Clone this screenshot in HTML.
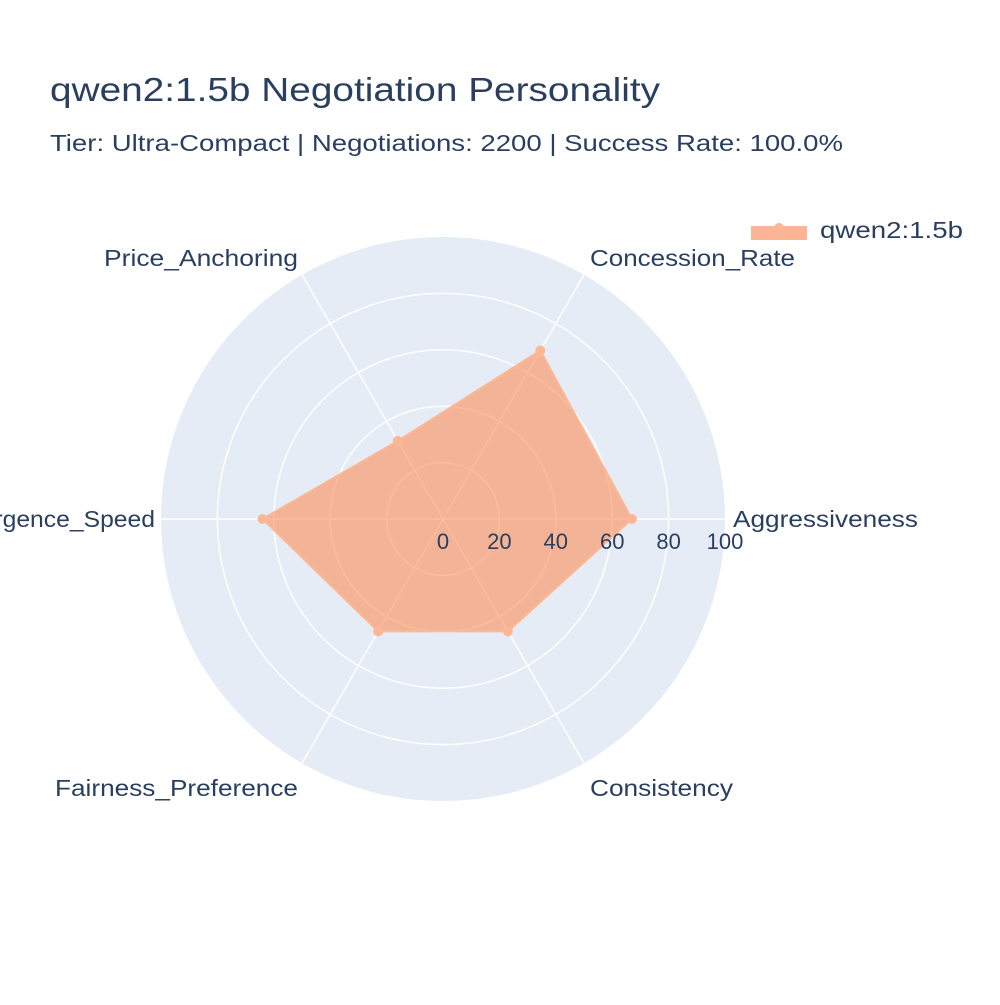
<!DOCTYPE html>
<html><head><meta charset="utf-8"><style>
body{margin:0;background:#fff;font-family:"Liberation Sans",Arial,sans-serif}
svg text{font-family:"Liberation Sans",Arial,sans-serif;fill:#2a3f5f}
</style></head><body>
<svg id="chart" width="1000" height="1000" viewBox="0 0 1000 1000">
<text x="50" y="101" font-size="33" textLength="610" lengthAdjust="spacingAndGlyphs">qwen2:1.5b Negotiation Personality</text>
<text x="50" y="151" font-size="23" textLength="793" lengthAdjust="spacingAndGlyphs">Tier: Ultra-Compact | Negotiations: 2200 | Success Rate: 100.0%</text>
<g id="plot"></g>
<g>
<line x1="751" y1="233" x2="807" y2="233" stroke="#fbb594" stroke-width="14"/>
<circle cx="779" cy="228" r="5" fill="#fdb795"/>
<text x="820" y="238" font-size="23" textLength="143" lengthAdjust="spacingAndGlyphs">qwen2:1.5b</text>
</g>
</svg>
<script>
const categories=["Aggressiveness","Concession_Rate","Price_Anchoring","Convergence_Speed","Fairness_Preference","Consistency"];
const values=[67,69,32,64,46,46];
const ticks=[0,20,40,60,80,100];
const labelWidths=[185,205,194,232,243,143];
const cx=443,cy=519,R=282,rmax=100;
const ns="http://www.w3.org/2000/svg";
const g=document.getElementById('plot');
function rr(v){return v/rmax*R;}
function pt(v,i){const a=i*Math.PI/3;return [cx+rr(v)*Math.cos(a),cy-rr(v)*Math.sin(a)];}
function mk(t,attrs){const e=document.createElementNS(ns,t);for(const k in attrs)e.setAttribute(k,attrs[k]);g.appendChild(e);return e;}
let bg=mk('circle',{cx:cx,cy:cy,r:R,fill:'#e5ecf6'});


ticks.slice(1,-1).forEach(t=>{const c=mk('circle',{cx:cx,cy:cy,r:rr(t),fill:'none',stroke:'#fff','stroke-width':1.5});

});
categories.forEach((c,i)=>{const [x,y]=pt(rmax,i);const l=mk('line',{x1:cx,y1:cy,x2:x,y2:y,stroke:'#fff','stroke-width':1.5});


const a=i*Math.PI/3;const sn=Math.sin(a),cs=Math.cos(a);
let lx=cx+(R+8)*cs,ly=cy-(R+8)*sn;
if(Math.abs(sn)<0.01){ly=cy+8;lx=cs>0?733:155;}
else if(sn>0){ly=y-9;lx=cs>0?x+6:x-4;}
else{ly=y+33;lx=cs>0?x+6:x-4;}
const anchor=cs>0?'start':'end';
const tx=mk('text',{x:lx,y:ly,'font-size':23,'text-anchor':anchor,textLength:labelWidths[i],lengthAdjust:'spacingAndGlyphs'});tx.textContent=c;

});
const pts=values.map((v,i)=>pt(v,i));
const poly=mk('polygon',{points:pts.map(p=>p.join(',')).join(' '),fill:'rgba(252,141,89,0.6)',stroke:'#fdb795','stroke-width':2});


pts.forEach((p,i)=>{const c=mk('circle',{cx:p[0],cy:p[1],r:5,fill:'#fdb795'});

});
ticks.forEach(t=>{const tx=mk('text',{x:cx+rr(t),y:549,'font-size':22,'text-anchor':'middle'});tx.textContent=t;

});
</script>
</body></html>
